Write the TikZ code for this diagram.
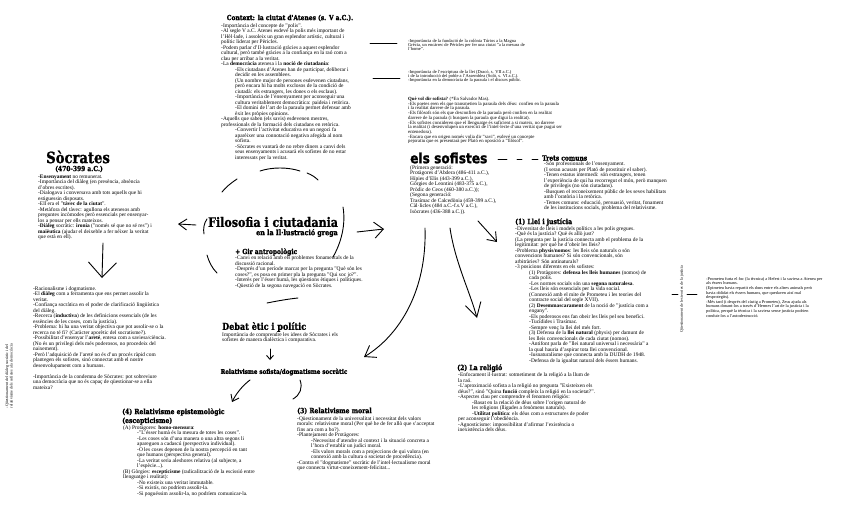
\documentclass[tikz,border=0pt]{standalone}
\usepackage{fontspec}
\setmainfont{Liberation Serif}
\newfontfamily\slab{DejaVu Serif}[FakeStretch=0.85, BoldFeatures={FakeBold=1.2}]
\newfontfamily\heavysans{DejaVu Sans}[FakeStretch=0.87, BoldFeatures={FakeBold=1.5}]
\usetikzlibrary{arrows.meta}
\newcommand\myind{\hspace*{14pt}}
\tikzset{
 body/.style={anchor=north west, inner sep=0pt, align=left, font=\fontsize{5.4}{5.5}\selectfont},
 small/.style={anchor=north west, inner sep=0pt, align=left, font=\fontsize{4.5}{4.3}\selectfont},
 head/.style={anchor=west, inner sep=0pt, font=\slab\bfseries\fontsize{7.2}{8}\selectfont},
 pen/.style={line width=0.9pt, line cap=round, line join=round},
}
\begin{document}
\begin{tikzpicture}[x=1pt,y=-1pt]
\fill[white] (0,0) rectangle (848,514);
\useasboundingbox (0,0) rectangle (848,514);

% ---------- Context ----------
\node[head, anchor=center, font=\slab\bfseries\fontsize{7}{8}\selectfont] (ctxh) at (290,18) {Context: la ciutat d'Atenes (s. V a.C.).};
\node[body] (ctx) at (221,23.5) {-Importància del concepte de "polis".\\
-Al segle V a.C. Atenes esdevé la polis més important de\\
l'Hèl·lade, i assoleix un gran esplendor artístic, cultural i\\
polític liderat per Pèricles.\\
-Podem parlar d'Il·lustració gràcies a aquest esplendor\\
cultural, però també gràcies a la confiança en la raó com a\\
clau per arribar a la veritat.\\
-La \textbf{democràcia} atenesa i la \textbf{noció de ciutadania}:\\
\myind-Els ciutadans d'Atenes han de participar, deliberar i\\
\myind decidir en les assemblees.\\
\myind(Un nombre major de persones esdevenen ciutadans,\\
\myind però encara hi ha molts exclosos de la condició de\\
\myind ciutadà: els estrangers, les dones o els esclaus).\\
\myind-Importància de l'ensenyament per aconseguir una\\
\myind cultura veritablement democràtica: paideia i retòrica.\\
\myind-El domini de l'art de la paraula permet defensar amb\\
\myind èxit les pròpies opinions.\\
-Aquells que saben (els savis) esdevenen mestres,\\
professionals de la formació dels ciutadans en retòrica.\\
\myind-Convertir l'activitat educativa en un negoci fa\\
\myind aparèixer una connotació negativa afegida al nom\\
\myind sofista.\\
\myind-Sòcrates es vantarà de no rebre diners a canvi dels\\
\myind seus ensenyaments i acusarà els sofistes de no estar\\
\myind interessats per la veritat.};

% ---------- notes top right ----------
\node[small] (n1) at (408,39) {-Importància de la fundació de la colònia Túrios a la Magna\\
Grècia, un encàrrec de Pèricles per fer una ciutat "a la mesura de\\
l'home".};
\node[small] (n2) at (408,70) {-Importància de l'escriptura de la llei (Dracó, s. VII a.C.)\\
i de la introducció del poble a l'Assemblea (Soló, s. VI a.C.).\\
-Importància en la democràcia de la paraula i el discurs públic.};
\node[small, font=\fontsize{4.8}{4.7}\selectfont] (n3) at (408,97) {\textbf{Què vol dir sofista?} (*En Salvador Mas).\\
-Els poetes eren els que transmetien la paraula dels déus: confien en la paraula\\
i la realitat darrere de la paraula.\\
-Els filòsofs són els que desconfien de la paraula però confien en la realitat\\
darrere de la paraula (i busquen la paraula que digui la realitat).\\
-Els sofistes consideren que el llenguatge és suficient a si mateix, no darrere\\
la realitat (i desenvolupen un exercici de l'intel·lecte d'una veritat que pugui ser\\
entenedora).\\
-Encara que en origen només volia dir "savi", esdevé un concepte\\
pejoratiu que es presentarà per Plató en oposició a "filòsof".};
\coordinate (l1a) at (370,43); \coordinate (l1b) at (397,43);
\coordinate (l2a) at (373,78); \coordinate (l2b) at (400,78);
\draw[pen] (l1a) -- (l1b);
\draw[pen] (l2a) -- (l2b);

% ---------- Socrates ----------
\node[head, font=\slab\bfseries\fontsize{15.5}{16}\selectfont] (soch) at (46,157) {Sòcrates};
\node[head, font=\slab\bfseries\fontsize{7}{8}\selectfont] (socd) at (55,169) {(470-399 a.C.)};
\node[body] (soc) at (38,174.5) {-\textbf{Ensenyament} no remunerat.\\
-Importància del diàleg (en presència, absència\\
d'obres escrites).\\
-Dialogava i conversava amb tots aquells que hi\\
estiguessin disposats.\\
-Ell era el "\textbf{tàvec de la ciutat}".\\
-Metàfora del tàvec: agullona els atenesos amb\\
preguntes incòmodes però essencials per ensenyar-\\
los a pensar per ells mateixos.\\
-\textbf{Diàleg} socràtic: \textbf{ironia} ("només sé que no sé res") i\\
\textbf{maièutica} (ajudar el deixeble a fer néixer la veritat\\
que està en ell).};
\node[body] (soc2) at (33,286.5) {-Racionalisme i dogmatisme.\\
-El \textbf{diàleg} com a ferramenta que ens permet assolir la\\
veritat.\\
-Confiança socràtica en el poder de clarificació lingüística\\
del diàleg.\\
-Recerca (\textbf{inductiva}) de les definicions essencials (de les\\
essències de les coses, com la justícia).\\
-Problema: hi ha una veritat objectiva que pot assolir-se o la\\
recerca no té fi? (Caràcter aporètic del socratisme?).\\
-Possibilitat d'ensenyar l'\textbf{areté}, entesa com a saviesa/ciència.\\
(No és un privilegi dels més poderosos, no procedeix del\\
naixement).\\
-Però l'adquisició de l'areté no és d'un procés ràpid com\\
plantegen els sofistes, sinó connectat amb el nostre\\
desenvolupament com a humans.\\[5.5pt]
-Importància de la condemna de Sòcrates: pot sobreviure\\
una democràcia que no és capaç de qüestionar-se a ella\\
mateixa?};
\node[small, anchor=center, rotate=90, font=\fontsize{4}{4.3}\selectfont] (lm) at (9,376) {-Qüestionament del diàleg socràtic i del\\relativisme dels sofistes a la democràcia};
\coordinate (sa1) at (103,243); \coordinate (sa2) at (102,278);
\draw[pen, -{Straight Barb[length=15pt,width=28pt]}] (sa1) -- (sa2);

% ---------- Filosofia ----------
\node[head, font=\slab\bfseries\fontsize{13}{14}\selectfont] (fil) at (208,222) {Filosofia i ciutadania};
\node[head, anchor=east, font=\slab\bfseries\fontsize{7.5}{8}\selectfont] (fil2) at (338,233) {en la Il·lustració grega};
\coordinate (la1) at (196,225); \coordinate (la2) at (178,224);
\draw[pen, -{Straight Barb[length=8pt,width=11pt]}] (la1) -- (la2);
\coordinate (ra1) at (357,232); \coordinate (ra2) at (384,229);
\draw[pen, -{Straight Barb[length=9pt,width=16pt]}] (ra1) -- (ra2);
% broken ellipse
\draw[pen] (260,171) .. controls (272,167) and (288,167) .. (300,171);
\draw[pen] (307,173) .. controls (312,175) and (315,177) .. (318,180);
\draw[pen] (237,179) .. controls (231,183) and (226,187) .. (222,192);
\draw[pen] (207,219) .. controls (204,223) and (203,229) .. (204,234);
\draw[pen] (207,255) .. controls (209,262) and (212,268) .. (217,273);
\draw[pen] (267,303) .. controls (277,301) and (288,299) .. (298,298);
\draw[pen] (343,207) .. controls (346,225) and (341,243) .. (333,257);

\node[head, font=\slab\bfseries\fontsize{7}{8}\selectfont] (gir) at (235,252) {+ Gir antropològic};
\node[body] (girb) at (235,255.5) {-Canvi en relació amb els problemes fonamentals de la\\
discussió racional.\\
-Després d'un període marcat per la pregunta "Què són les\\
coses?", es posa en primer pla la pregunta "Qui soc jo?".\\
-Interès per l'ésser humà, les qüestions ètiques i polítiques.\\
-Qüestió de la segona navegació en Sòcrates.};

% ---------- Debat ----------
\node[head, font=\slab\bfseries\fontsize{9.5}{10}\selectfont] (deb) at (222,327) {Debat ètic i polític};
\node[body] (debb) at (222,332.5) {Importància de comprendre les idees de Sòcrates i els\\
sofistes de manera dialèctica i comparativa.};
\coordinate (da1) at (270,349); \coordinate (da2) at (270,360);
\draw[pen, -{Straight Barb[length=4pt,width=7pt]}] (da1) -- (da2);
\node[head, anchor=center, font=\slab\bfseries\fontsize{6.6}{8}\selectfont] (rel) at (284,372) {Relativisme sofista/dogmatisme socràtic};
\coordinate (r4a) at (250,380); \coordinate (r4b) at (232,402);
\draw[pen, -{Straight Barb[length=6pt,width=9pt]}] (r4a) .. controls (242,386) and (236,394) .. (r4b);
\coordinate (r3a) at (300,380); \coordinate (r3b) at (293,399);
\draw[pen] (r3a) .. controls (303,388) and (300,395) .. (r3b);

% ---------- (4) ----------
\node[head] (h4) at (122,412) {(4) Relativisme epistemològic};
\node[head] (h4b) at (122,421) {(escepticisme)};
\node[body] (b4) at (123,425.5) {(A) Protàgores: \textbf{homo-mensura}:\\
\myind-"L'ésser humà és la mesura de totes les coses".\\
\myind-Les coses són d'una manera o una altra segons li\\
\myind apareguen a cadascú (perspectiva individual).\\
\myind-O les coses depenen de la nostra percepció en tant\\
\myind que humans (perspectiva general).\\
\myind-La veritat seria aleshores relativa (al subjecte, a\\
\myind l'espècie...).\\
(B) Gòrgies: \textbf{escepticisme} (radicalització de la escissió entre\\
llenguatge i realitat):\\
\myind-No existeix una veritat immutable.\\
\myind-Si existís, no podríem assolir-la.\\
\myind-Si poguéssim assolir-la, no podríem comunicar-la.};

% ---------- (3) ----------
\node[head] (h3) at (297,411) {(3) Relativisme moral};
\node[body] (b3) at (297,416.5) {-Qüestionament de la universalitat i necessitat dels valors\\
morals: relativisme moral (Per què he de fer allò que s'acceptat\\
fins ara com a bo?).\\
-Plantejament de Protàgores:\\
\myind-Necessitat d'atendre al context i la situació concreta a\\
\myind l'hora d'establir un judici moral.\\
\myind-Els valors morals com a projeccions de qui valora (en\\
\myind connexió amb la cultura o societat de procedència).\\
-Contra el "dogmatisme" socràtic de l'intel·lectualisme moral\\
que connecta virtut-coneixement-felicitat...};

% ---------- sofistes ----------
\node[anchor=west, inner sep=0pt, font=\heavysans\bfseries\fontsize{14}{14}\selectfont] (sof) at (410,158) {els sofistes};
\node[body] (sofb) at (410,165.5) {(Primera generació:\\
Protàgores d'Abdera (486-411 a.C.),\\
Hípies d'Elis (443-399 a.C.),\\
Gòrgies de Leontini (483-375 a.C.),\\
Pròdic de Ceos (460-380 a.C.));\\
(Segona generació:\\
Trasímac de Calcedònia (459-399 a.C.),\\
Càl·licles (484 a.C.-f.s.V a.C.),\\
Isòcrates (436-388 a.C.)).};
\node[head, font=\slab\bfseries\fontsize{7}{8}\selectfont] (tre) at (542,158) {Trets comuns};
\draw[pen] (498,159) -- (507,159);
\draw[pen] (517,159) -- (522,159);
\draw[pen] (532,159) -- (538,159);
\node[body] (treb) at (544,161.5) {-Són professionals de l'ensenyament.\\
(I seran acusats per Plató de prostituir el saber).\\
-Tenen estatus intermedi: són estrangers, tenen\\
l'experiència de qui ha recorregut el món, però manquen\\
de privilegis (no són ciutadans).\\
-Busquen el reconeixement públic de les seves habilitats\\
amb l'oratòria i la retòrica.\\
-Temes comuns: educació, persuasió, veritat, fonament\\
de les institucions socials, problema del relativisme.};

\coordinate (aa1) at (425,228); \coordinate (aa2) at (364,357);
\draw[pen, -{Straight Barb[length=10pt,width=14pt]}] (aa1) .. controls (427,290) and (400,335) .. (aa2);
\coordinate (ab1) at (450,228); \coordinate (ab2) at (477,318);
\draw[pen, -{Straight Barb[length=14pt,width=16pt]}] (ab1) .. controls (455,262) and (470,292) .. (ab2);
\coordinate (ac1) at (478,221); \coordinate (ac2) at (497,242);
\draw[pen, -{Straight Barb[length=8pt,width=12pt]}] (ac1) -- (ac2);

% ---------- (1) Llei ----------
\node[head] (h1) at (515,222) {(1) Llei i justícia};
\node[body] (b1) at (515,226.5) {-Diversitat de lleis i models polítics a les polis gregues.\\
-Què és la justícia? Què és allò just?\\
(La pregunta per la justícia connecta amb el problema de la\\
legitimitat: per què he d'obeir les lleis?\\
-Problema \textbf{physis/nomos}: les lleis són naturals o són\\
convencions humanes? Si són convencionals, són\\
arbitràries? Són antinaturals?\\
-3 posicions diferents en els sofistes:\\
\myind(1) Protàgores: \textbf{defensa les lleis humanes} (nomos) de\\
\myind cada polis.\\
\myind-Les normes socials són una \textbf{segona naturalesa}.\\
\myind-Les lleis són essencials per la vida social.\\
\myind(Connexió amb el mite de Prometeu i les teories del\\
\myind contracte social del segle XVII).\\
\myind(2) \textbf{Desemmascarament} de la noció de "justícia com a\\
\myind engany".\\
\myind-Els poderosos ens fan obeir les lleis pel seu benefici.\\
\myind-Tucídides i Trasímac.\\
\myind-Sempre venç la llei del més fort.\\
\myind(3) Defensa de la \textbf{llei natural} (physis) per damunt de\\
\myind les lleis convencionals de cada ciutat (nomos).\\
\myind-Antifont parla de "llei natural universal i necessària" a\\
\myind la qual hauria d'aspirar tota llei convencional.\\
\myind-Iusnaturalisme que connecta amb la DUDH de 1948.\\
\myind-Defensa de la igualtat natural dels éssers humans.};
\draw[pen] (672,294) -- (678,294);
\draw[pen] (687,294) -- (697,294);
\node[small, anchor=center, rotate=90, font=\fontsize{4}{4.3}\selectfont] (vt) at (682,299) {Qüestionament de les teories de la justícia};
\node[small, font=\fontsize{4.3}{4.6}\selectfont] (pn) at (706,277) {-Prometeu furta el foc (la tècnica) a Hefest i la saviesa a Atenea per\\
als éssers humans.\\
(Epimeteu havia repartit els dons entre els altres animals però\\
havia oblidat els éssers humans, que quedaven així mal\\
desprotegits).\\
-Més tard (i després del càstig a Prometeu), Zeus ajuda als\\
humans donant-los a través d'Hermes l'art de la justícia i la\\
política, perquè la tècnica i la saviesa sense justícia podrien\\
conduir-los a l'autodestrucció.};

% ---------- (2) religio ----------
\node[head] (h2) at (457,368) {(2) La religió};
\node[body] (b2) at (458,372.5) {-Enfocament il·lustrat: sotmetiment de la religió a la llum de\\
la raó.\\
-L'aproximació sofista a la religió no pregunta "Existeixen els\\
déus?", sinó "Quina \textbf{funció} compleix la religió en la societat?".\\
-Aspectes clau per comprendre el fenomen religiós:\\
\myind-Basat en la relació de déus sobre l'origen natural de\\
\myind les religions (lligades a fenòmens naturals).\\
\myind-\textbf{Utilitat política}: els déus com a estructures de poder\\
per aconseguir l'obediència.\\
-Agnosticisme: impossibilitat d'afirmar l'existència o\\
inexistència dels déus.};
\end{tikzpicture}
\end{document}
